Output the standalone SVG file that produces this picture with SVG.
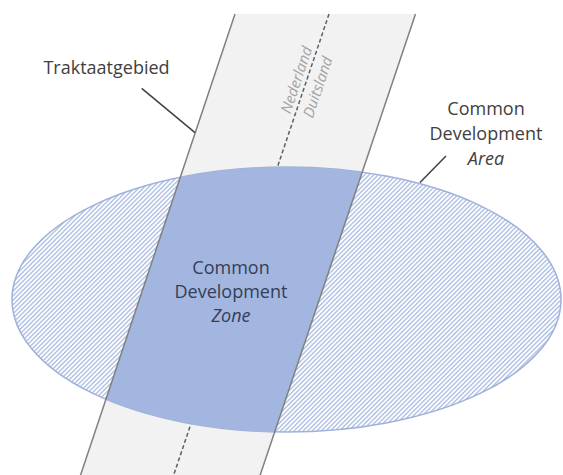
<svg xmlns="http://www.w3.org/2000/svg" width="563" height="475" viewBox="0 0 563 475">
  <style>
    .lbl { font-family: "Open Sans", "Liberation Sans", sans-serif; font-size: 18px; fill: #404040; text-anchor: middle; }
    .zone { fill: #333e57; }
    .it { font-style: italic; }
    .border { font-family: "Open Sans", "Liberation Sans", sans-serif; font-size: 15px; font-style: italic; fill: #a3a3a3; text-anchor: middle; }
    .edge { stroke: #808080; stroke-width: 1.5; fill: none; }
    .leader { stroke: #404040; stroke-width: 1.5; fill: none; }
  </style>
  <defs>
    <pattern id="hatch" patternUnits="userSpaceOnUse" width="3.2" height="3.2" patternTransform="rotate(45)">
      <rect x="0" y="0" width="1.3" height="3.2" fill="#a9bbe1"/>
    </pattern>
    <clipPath id="ellClip">
      <ellipse cx="286.5" cy="299.5" rx="274.5" ry="132.5"/>
    </clipPath>
  </defs>

  <rect width="563" height="475" fill="#ffffff"/>

  <g id="traktaatgebied">
    <polygon points="235,14 415.5,14 258.5,480 78.9,480" fill="#f2f2f2"/>
    <line x1="329" y1="14" x2="172" y2="480" stroke="#5f5f5f" stroke-width="1.5" stroke-dasharray="4,2.5"/>
  </g>

  <g id="common-development-area">
    <ellipse cx="286.5" cy="299.5" rx="274.5" ry="132.5" fill="#ffffff"/>
    <ellipse cx="286.5" cy="299.5" rx="274.5" ry="132.5" fill="url(#hatch)" stroke="#9fb1da" stroke-width="1.5"/>
  </g>

  <g id="common-development-zone">
    <polygon points="235,14 415.5,14 258.5,480 78.9,480" fill="#a3b6df" clip-path="url(#ellClip)"/>
  </g>

  <g id="band-edges">
    <line class="edge" x1="235" y1="14" x2="78.9" y2="480"/>
    <line class="edge" x1="415.5" y1="14" x2="258.5" y2="480"/>
  </g>

  <g id="connectors">
    <line class="leader" x1="141.7" y1="88.3" x2="195" y2="132.7"/>
    <line class="leader" x1="420" y1="182.5" x2="446" y2="156"/>
  </g>

  <g id="label-traktaatgebied">
    <text class="lbl" x="106.5" y="74.3">Traktaatgebied</text>
  </g>

  <g id="label-area">
    <text class="lbl" x="486" y="115">Common</text>
    <text class="lbl" x="486" y="140">Development</text>
    <text class="lbl it" x="486" y="165">Area</text>
  </g>

  <g id="label-zone">
    <text class="lbl zone" x="231" y="274">Common</text>
    <text class="lbl zone" x="231" y="298">Development</text>
    <text class="lbl zone it" x="231" y="322">Zone</text>
  </g>

  <g id="label-border" transform="translate(305.7,83) rotate(-71.4)">
    <text class="border" x="0" y="-4.5">Nederland</text>
    <text class="border" x="0" y="18">Duitsland</text>
  </g>
</svg>
